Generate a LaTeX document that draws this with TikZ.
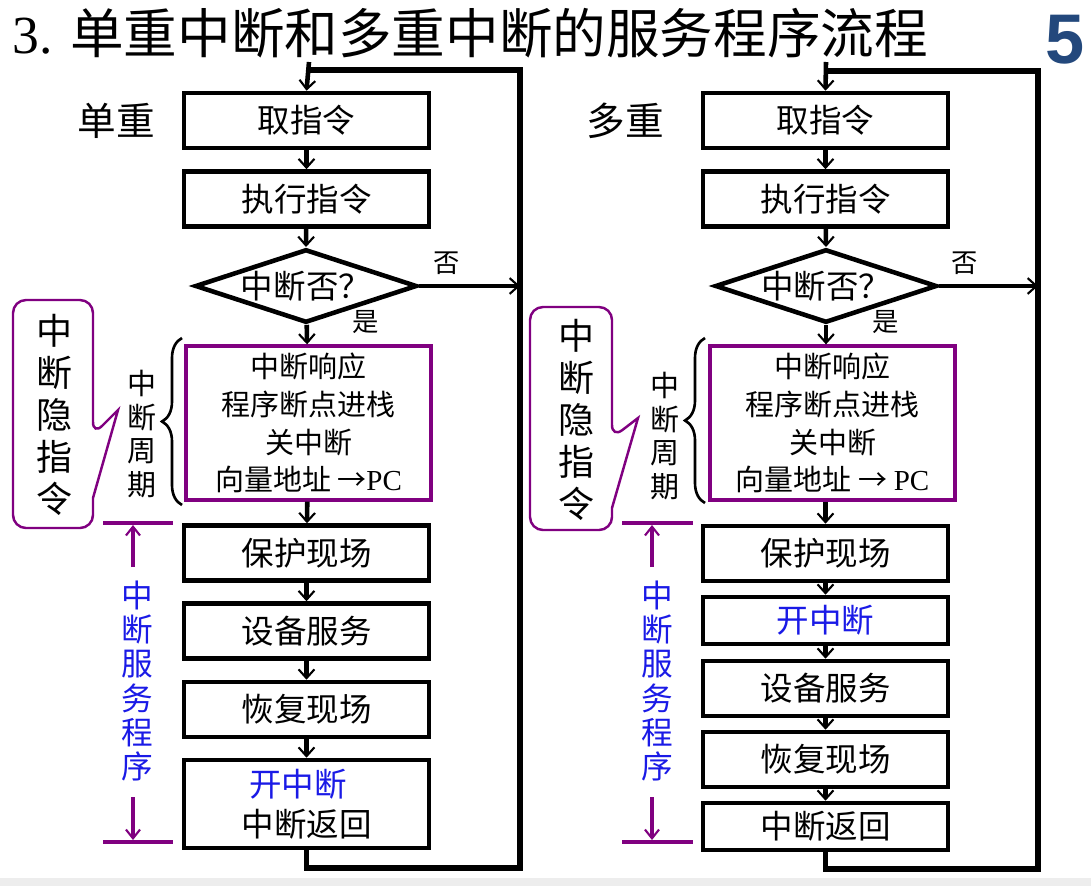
\documentclass[tikz,border=0pt]{standalone}
\usepackage{fontspec}
\setmainfont{Liberation Serif}
\newfontfamily\cjk{Noto Sans CJK SC}
\newfontfamily\numfont{Liberation Sans}
\usetikzlibrary{arrows.meta,shapes.geometric,decorations.pathreplacing}
\definecolor{hint}{HTML}{800080}
\definecolor{isr}{HTML}{1A1AE6}
\definecolor{pagenum}{HTML}{23487C}
\tikzset{
  stepbox/.style={draw, line width=2.6pt, minimum width=4.9cm, minimum height=1.1cm,
    inner sep=0pt, font=\cjk\fontsize{18.5}{23}\selectfont, align=center},
  cycbox/.style={draw=hint, line width=1.9pt, minimum width=4.9cm, minimum height=3.08cm,
    inner sep=0pt, align=center, font=\cjk\fontsize{16.5}{21.5}\selectfont},
  ask/.style={diamond, draw, line width=2.6pt, aspect=3, minimum width=4.44cm,
    minimum height=1.44cm, inner sep=0pt, font=\cjk\fontsize{18.5}{20}\selectfont},
  flow/.style={line width=2.6pt, -{Straight Barb[length=5pt,width=9pt,line width=1.2pt]}},
  back/.style={line width=3pt},
  tag/.style={inner sep=0pt, font=\cjk\fontsize{15}{16}\selectfont},
  kind/.style={inner sep=0pt, font=\cjk\fontsize{22}{24}\selectfont},
  hintline/.style={draw=hint, line width=1.8pt},
  hintarrow/.style={hintline, -{Straight Barb[length=5pt,width=8pt,line width=1.2pt]}},
  callout/.style={draw=hint, line width=1.4pt},
  vhint/.style={align=center, inner sep=0pt, font=\cjk\fontsize{20.5}{24}\selectfont},
  vcycle/.style={align=center, inner sep=0pt, font=\cjk\fontsize{16.5}{19.3}\selectfont},
  visr/.style={align=center, inner sep=0pt, text=isr, font=\cjk\fontsize{18}{19.5}\selectfont},
  brace/.style={decorate, decoration={brace, amplitude=0.4cm}, line width=1.5pt},
  >=Stealth
}

\begin{document}
\begin{tikzpicture}[x=0.02cm, y=-0.02cm]
  \useasboundingbox (0,0) rectangle (1091,886);
  \fill[black!7] (0,878) rectangle (1091,886);
  % title and page number
  \node[anchor=west, inner sep=0pt, font=\fontsize{30.5}{32}\selectfont] (title) at (12,33)
    {3. {\cjk 单重中断和多重中断的服务程序流程}};
  \node[inner sep=0pt, text=pagenum, font=\numfont\bfseries\fontsize{40}{40}\selectfont] (page) at (1065,40) {5};

  % single level
  \node[kind] (kindL) at (116,121) {单重};
  \node[stepbox] (fetchL) at (306.5,120.5) {取指令};
  \node[stepbox] (execL) at (306.5,199) {执行指令};
  \node[ask] (askL) at (306,286) {中断否？};
  \node[cycbox] (cycL) at (308.5,423) {中断响应\\程序断点进栈\\关中断\\向量地址 →{\rmfamily PC}};
  \node[stepbox] (saveL) at (306.5,553) {保护现场};
  \node[stepbox] (servL) at (306.5,631) {设备服务};
  \node[stepbox] (restL) at (306.5,709.5) {恢复现场};
  \node[stepbox, minimum height=1.76cm] (retL) at (306.5,804)
    {\textcolor{isr}{开中断}\hspace*{0.35cm}\\中断返回};
  \node[tag] (noL) at (447,263) {否};
  \node[tag] (yesL) at (366,322) {是};
  \coordinate (inL) at (309,62);
  \coordinate (topL) at (309,70);
  \coordinate (botL) at (520,868);
  \draw[flow] (inL) -- (fetchL.north);
  \draw[flow] (fetchL) -- (execL);
  \draw[flow] (execL) -- (askL.north);
  \draw[flow] (askL) -- (cycL);
  \draw[flow] (cycL) -- (saveL);
  \draw[flow] (saveL) -- (servL);
  \draw[flow] (servL) -- (restL);
  \draw[flow] (restL) -- (retL);
  \draw[back] (retL.south) |- (botL) |- (topL);
  \draw[flow] (askL.east) -- (askL.east -| botL);
  % interrupt cycle and hidden instruction
  \draw[brace] (182,505) -- (182,338);
  \node[vcycle] (cycTagL) at (142,434) {中\\断\\周\\期};
  \draw[callout] (53,300) [rounded corners=0.26cm] -- (93,300) -- (93,435)
    [sharp corners] -- (118,410) -- (93,498)
    [rounded corners=0.26cm] -- (93,528) -- (13,528) -- (13,300) -- cycle;
  \node[vhint] (hintL) at (55,415) {中\\断\\隐\\指\\令};
  % service routine span
  \draw[hintline] (103,523) -- (173,523);
  \draw[hintline] (103,842) -- (173,842);
  \draw[hintarrow] (133,567) -- (133,525);
  \draw[hintarrow] (133,797) -- (133,840);
  \node[visr] (isrL) at (137,681) {中\\断\\服\\务\\程\\序};

  % multi level
  \node[kind] (kindR) at (625,121) {多重};
  \node[stepbox] (fetchR) at (825.5,120.5) {取指令};
  \node[stepbox] (execR) at (825.5,199) {执行指令};
  \node[ask] (askR) at (826,286) {中断否？};
  \node[cycbox] (cycR) at (832.5,423) {中断响应\\程序断点进栈\\关中断\\向量地址 → {\rmfamily PC}};
  \node[stepbox] (saveR) at (825.5,553.5) {保护现场};
  \node[stepbox, minimum height=0.94cm, text=isr] (intR) at (825.5,620.5) {开中断};
  \node[stepbox] (servR) at (825.5,688.5) {设备服务};
  \node[stepbox] (restR) at (825.5,759.5) {恢复现场};
  \node[stepbox, minimum height=0.94cm] (retR) at (825.5,826.5) {中断返回};
  \node[tag] (noR) at (965,263) {否};
  \node[tag] (yesR) at (886,322) {是};
  \coordinate (inR) at (826,62);
  \coordinate (topR) at (826,71);
  \coordinate (botR) at (1038,869);
  \draw[flow] (inR) -- (fetchR.north);
  \draw[flow] (fetchR) -- (execR);
  \draw[flow] (execR) -- (askR.north);
  \draw[flow] (askR) -- (cycR.north -| askR);
  \draw[flow] (cycR.south -| saveR) -- (saveR);
  \draw[flow] (saveR) -- (intR);
  \draw[flow] (intR) -- (servR);
  \draw[flow] (servR) -- (restR);
  \draw[flow] (restR) -- (retR);
  \draw[back] (retR.south) |- (botR) |- (topR);
  \draw[flow] (askR.east) -- (askR.east -| botR);
  \draw[brace] (705,503) -- (705,338);
  \node[vcycle] (cycTagR) at (665,436) {中\\断\\周\\期};
  \draw[callout] (571,307) [rounded corners=0.26cm] -- (612,307) -- (612,438)
    [sharp corners] -- (638,418) -- (612,508)
    [rounded corners=0.26cm] -- (612,530) -- (530,530) -- (530,307) -- cycle;
  \node[vhint] (hintR) at (577,420) {中\\断\\隐\\指\\令};
  \draw[hintline] (622,523) -- (693,523);
  \draw[hintline] (622,842) -- (693,842);
  \draw[hintarrow] (652,567) -- (652,525);
  \draw[hintarrow] (652,797) -- (652,840);
  \node[visr] (isrR) at (657,681) {中\\断\\服\\务\\程\\序};
\end{tikzpicture}
\end{document}
